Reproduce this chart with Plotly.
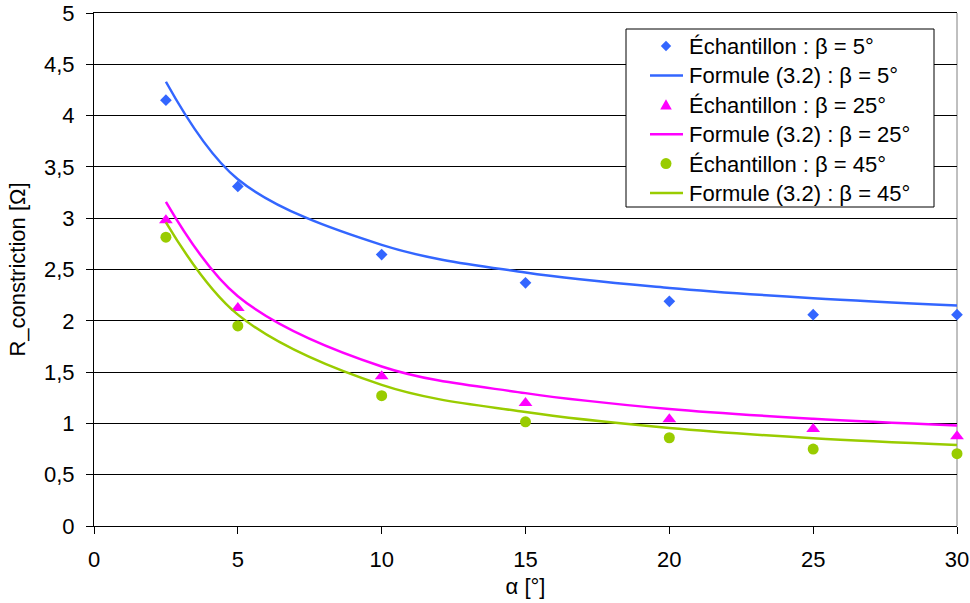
import plotly.graph_objects as go

alpha = [2.5, 5, 10, 15, 20, 25, 30]

ech_b5 = [4.15, 3.31, 2.645, 2.37, 2.19, 2.06, 2.06]
ech_b25 = [2.98, 2.125, 1.46, 1.20, 1.04, 0.945, 0.875]
ech_b45 = [2.815, 1.95, 1.27, 1.015, 0.86, 0.75, 0.705]

form_b5 = [4.33, 3.38, 2.74, 2.47, 2.32, 2.22, 2.15]
form_b25 = [3.16, 2.24, 1.555, 1.295, 1.14, 1.045, 0.98]
form_b45 = [2.96, 2.06, 1.375, 1.11, 0.955, 0.856, 0.79]

names = [
    "Échantillon : β = 5°", "Formule (3.2) : β = 5°",
    "Échantillon : β = 25°", "Formule (3.2) : β = 25°",
    "Échantillon : β = 45°", "Formule (3.2) : β = 45°",
]

x_ticks = [0, 5, 10, 15, 20, 25, 30]
y_ticks = [0, 0.5, 1, 1.5, 2, 2.5, 3, 3.5, 4, 4.5, 5]

BLUE = "#3366FF"
MAG = "#FF00FF"
GREEN = "#99CC00"
FONT = "Liberation Sans, Arial, sans-serif"
FS = 22

# figure geometry (page body margin removed via post_script)
W, H = 970, 603
ML, MT, MR, MB = 94, 13, 13, 77
PW, PH = W - ML - MR, H - MT - MB
OX, OY = ML, MT  # screen position of plot area top-left


def px(X):
    return (X - OX) / PW


def py(Y):
    return (OY + PH - Y) / PH


fig = go.Figure()
series = [
    (ech_b5, form_b5, BLUE, "diamond", 9),
    (ech_b25, form_b25, MAG, "triangle-up", 12),
    (ech_b45, form_b45, GREEN, "circle", 11),
]
for i, (ech, form, col, sym, sz) in enumerate(series):
    fig.add_trace(go.Scatter(
        x=alpha, y=ech, mode="markers", name=names[2 * i],
        marker=dict(color=col, symbol=sym, size=sz, line=dict(width=0)),
        cliponaxis=False, showlegend=False,
    ))
    fig.add_trace(go.Scatter(
        x=alpha, y=form, mode="lines", name=names[2 * i + 1],
        line=dict(color=col, width=2.5, shape="spline", smoothing=1.0),
        showlegend=False,
    ))

# ---- legend (drawn by hand for exact spacing) ----
shapes = []
annotations = []
shapes.append(dict(type="rect", xref="paper", yref="paper",
                   x0=px(626), x1=px(934), y0=py(207), y1=py(29),
                   line=dict(color="black", width=1), fillcolor="white", layer="above"))
row_y = [46 + 29.4 * k for k in range(6)]
cols = [BLUE, BLUE, MAG, MAG, GREEN, GREEN]
cx = 666
for k in range(6):
    Y = row_y[k]
    annotations.append(dict(xref="paper", yref="paper", x=px(687), y=py(Y + 0.5),
                            xanchor="left", yanchor="middle", showarrow=False,
                            text=names[k], font=dict(family=FONT, size=FS, color="black")))
    if k % 2 == 1:
        shapes.append(dict(type="line", xref="paper", yref="paper",
                           x0=px(650), x1=px(683), y0=py(Y), y1=py(Y),
                           line=dict(color=cols[k], width=2.5), layer="above"))
# diamond
Y = row_y[0]
shapes.append(dict(type="path", xref="paper", yref="paper", layer="above",
                   path=f"M{px(cx-5.2)},{py(Y)} L{px(cx)},{py(Y-5.2)} L{px(cx+5.2)},{py(Y)} L{px(cx)},{py(Y+5.2)} Z",
                   fillcolor=BLUE, line=dict(width=0)))
# triangle
Y = row_y[2]
shapes.append(dict(type="path", xref="paper", yref="paper", layer="above",
                   path=f"M{px(cx-5.8)},{py(Y+4.8)} L{px(cx+5.8)},{py(Y+4.8)} L{px(cx)},{py(Y-5.6)} Z",
                   fillcolor=MAG, line=dict(width=0)))
# circle
Y = row_y[4]
shapes.append(dict(type="circle", xref="paper", yref="paper", layer="above",
                   x0=px(cx - 5.5), x1=px(cx + 5.5), y0=py(Y + 5.5), y1=py(Y - 5.5),
                   fillcolor=GREEN, line=dict(width=0)))
# right border of plot area
shapes.append(dict(type="line", xref="paper", yref="paper", x0=1, x1=1, y0=0, y1=1,
                   line=dict(color="#808080", width=1), layer="below"))

fig.update_layout(
    width=W, height=H,
    margin=dict(l=ML, r=MR, t=MT, b=MB),
    paper_bgcolor="white", plot_bgcolor="white",
    font=dict(family=FONT, size=FS, color="black"),
    showlegend=False,
    shapes=shapes, annotations=annotations,
    xaxis=dict(
        range=[0, 30], tickvals=x_ticks, ticktext=[str(v) for v in x_ticks],
        showgrid=False, zeroline=False, automargin=False,
        showline=True, mirror=True, linecolor="black", linewidth=1,
        ticks="outside", ticklen=7, tickcolor="black", ticklabelstandoff=7,
        ticklabeloverflow="allow",
        title=dict(text="α [°]", standoff=7, font=dict(size=FS)),
        tickfont=dict(size=FS),
    ),
    yaxis=dict(
        range=[0, 5], tickvals=y_ticks,
        ticktext=[("%g" % v).replace(".", ",") for v in y_ticks],
        showgrid=True, gridcolor="black", gridwidth=1, zeroline=False, automargin=False,
        showline=True, linecolor="black", linewidth=1,
        ticks="outside", ticklen=7, tickcolor="black", ticklabelstandoff=7,
        ticklabeloverflow="allow",
        title=dict(text="R_constriction [Ω]", standoff=12, font=dict(size=FS)),
        tickfont=dict(size=FS),
    ),
)

fig.write_html(
    "out.html",
    config={"displayModeBar": False},
    post_script="document.body.style.margin='0';document.body.style.overflow='hidden';",
)
